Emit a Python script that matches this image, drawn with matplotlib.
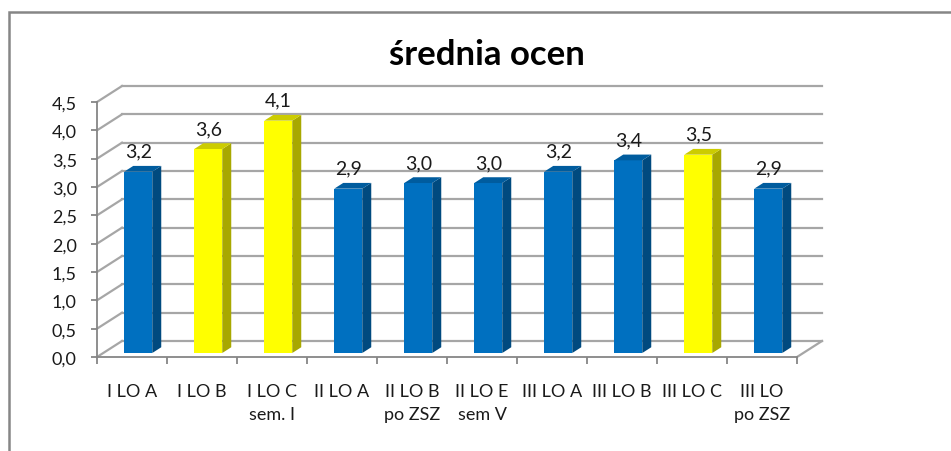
import matplotlib
matplotlib.use("Agg")
import matplotlib.pyplot as plt
from matplotlib.patches import Polygon, Rectangle
from matplotlib.lines import Line2D
import numpy as np

plt.rcParams['font.family'] = ['Lato', 'DejaVu Sans']

# ---- data ----
categories = ["I LO A", "I LO B", "I LO C\nsem. I", "II LO A", "II LO B\npo ZSZ",
              "II LO E\nsem V", "III LO A", "III LO B", "III LO C", "III LO\npo ZSZ"]
values = [3.2, 3.6, 4.1, 2.9, 3.0, 3.0, 3.2, 3.4, 3.5, 2.9]
is_yellow = [False, True, True, False, False, False, False, False, True, False]
title = "średnia ocen"
yticks = [0.0, 0.5, 1.0, 1.5, 2.0, 2.5, 3.0, 3.5, 4.0, 4.5]

# ---- style ----
W, H = 951, 452
blue = ("#0070C0", "#004A7F", "#005C9E")      # front, side, top
yellow = ("#FFFF00", "#A8A800", "#CCCC00")
grid_col = "#A6A6A6"
axis_col = "#868686"
txt_col = "#1a1a1a"

fig = plt.figure(figsize=(W / 100, H / 100), dpi=100)
# front plane of the 3D box
ax = fig.add_axes([97 / W, 94 / H, 700 / W, 255 / H])
n = len(categories)
ax.set_xlim(-0.5, n - 0.5)
ax.set_ylim(0, 4.5)

# depth projection (in data units)
DX = 25 / 70.0
DY = 16 / 56.7
d0 = 0.25      # bar front depth
dd = 0.36      # bar depth
bw = 0.40      # bar width

# back wall gridlines + left wall diagonals
for v in yticks:
    ax.add_line(Line2D([-0.5 + DX, n - 0.5 + DX], [v + DY, v + DY],
                       color=grid_col, lw=1.6, clip_on=False, zorder=1))
    ax.add_line(Line2D([-0.5, -0.5 + DX], [v, v + DY],
                       color=grid_col, lw=1.6, clip_on=False, zorder=1))
# floor right edge
ax.add_line(Line2D([n - 0.5, n - 0.5 + DX], [0, DY],
                   color=grid_col, lw=1.6, clip_on=False, zorder=1))

x = np.arange(n)
xc = x + d0 * DX
bottom = d0 * DY
fronts = [yellow[0] if y else blue[0] for y in is_yellow]
ax.bar(xc, values, width=bw, bottom=bottom, color=fronts, zorder=3, clip_on=False)

for i, v in enumerate(values):
    cols = yellow if is_yellow[i] else blue
    xl = xc[i] - bw / 2
    xr = xc[i] + bw / 2
    top = bottom + v
    sx, sy = dd * DX, dd * DY
    side = Polygon([(xr, bottom), (xr + sx, bottom + sy), (xr + sx, top + sy), (xr, top)],
                   closed=True, facecolor=cols[1], edgecolor='none', zorder=2, clip_on=False)
    topf = Polygon([(xl, top), (xr, top), (xr + sx, top + sy), (xl + sx, top + sy)],
                   closed=True, facecolor=cols[2], edgecolor='none', zorder=3, clip_on=False)
    ax.add_patch(side)
    ax.add_patch(topf)
    ax.text(xc[i], top + 0.36, f"{v:.1f}".replace('.', ','), ha='center', va='center',
            fontsize=14, color=txt_col, zorder=5, clip_on=False)

# axes / ticks
for s in ['top', 'right']:
    ax.spines[s].set_visible(False)
for s in ['left', 'bottom']:
    ax.spines[s].set_color(axis_col)
    ax.spines[s].set_linewidth(1.3)
    ax.spines[s].set_zorder(4)
ax.set_facecolor('none')
ax.set_yticks(yticks)
ax.set_yticklabels([f"{t:.1f}".replace('.', ',') for t in yticks])
ax.tick_params(axis='y', direction='out', length=4.5, width=1.3, color=axis_col,
               labelsize=13, pad=10, labelcolor=txt_col)
ax.set_xticks(np.arange(-0.5, n, 1.0))
ax.set_xticklabels([])
ax.tick_params(axis='x', which='major', direction='out', length=5, width=1.3, color=axis_col)
ax.set_xticks(x, minor=True)
ax.set_xticklabels(categories, minor=True)
ax.tick_params(axis='x', which='minor', length=0, labelsize=13, pad=19,
               labelcolor=txt_col)
for lbl in ax.get_xticklabels(minor=True):
    lbl.set_linespacing(1.5)
    lbl.set_verticalalignment('top')

# title
fig.text(487 / W, 1 - 55 / H, title, ha='center', va='center', fontsize=25,
         fontweight='bold', color='black')

# outer chart frame
fig.add_artist(Rectangle((9 / W, -0.1), 1.2, (H - 13) / H + 0.1, transform=fig.transFigure,
                         facecolor='none', edgecolor=axis_col, lw=1.8, zorder=0))

fig.savefig("out.png", dpi=100)
